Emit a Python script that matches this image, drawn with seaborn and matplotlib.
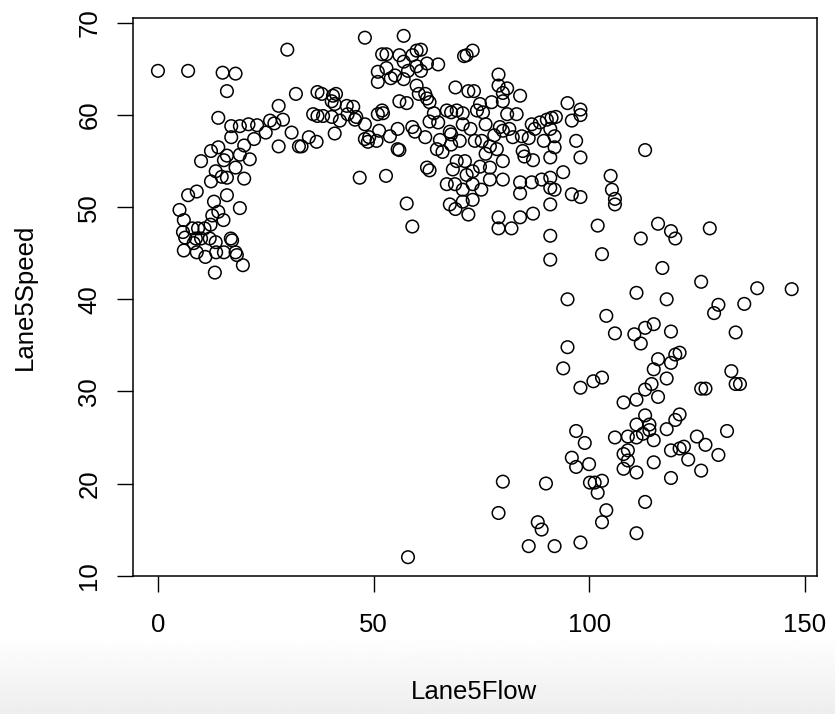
import numpy as np
import pandas as pd
import matplotlib
matplotlib.use("Agg")
import matplotlib.pyplot as plt
import seaborn as sns

# Lane5Flow / Lane5Speed values
left_flow = [0, 7, 15, 18, 16, 30, 32, 28, 14, 17, 19, 21, 23, 26, 27, 29, 31, 25, 22.3, 20, 17, 28, 32.7, 14,
             12.3, 10, 15.3, 16, 19, 21.3, 18, 13.4, 14.8, 16, 20, 12.3, 7, 9, 16, 13, 5, 6, 5.8, 6.3, 6, 8, 9.3,
             10.8, 12.2, 12.6, 14, 15.2, 8.8, 10, 8.3, 9, 11, 12, 13.4, 13.5, 13.2, 15.3, 16.9, 17.2, 18, 18.3, 19.7, 19]
left_speed = [64.8, 64.8, 64.6, 64.5, 62.6, 67.1, 62.3, 61.0, 59.7, 58.8, 58.8, 59.0, 58.9, 59.4, 59.1, 59.5, 58.1,
              58.1, 57.4, 56.7, 57.6, 56.6, 56.6, 56.5, 56.1, 55.0, 55.1, 55.6, 55.7, 55.2, 54.3, 53.9, 53.3, 53.2,
              53.1, 52.8, 51.3, 51.7, 51.3, 50.6, 49.7, 48.6, 47.3, 46.7, 45.3, 47.7, 47.7, 47.7, 48.1, 49.1, 49.5,
              48.6, 46.6, 46.6, 46.1, 45.1, 44.6, 46.6, 46.2, 45.1, 42.9, 45.1, 46.6, 46.4, 45.1, 44.8, 43.7, 49.9]

mid_flow = [48, 57, 52, 53, 56, 59, 60, 61, 71, 71.6, 73, 51, 53, 55, 57, 58, 60, 61, 62.4, 65, 51, 54, 57, 60,
            60.5, 62, 62.4, 63, 69, 72, 56, 57.7, 52, 52.2, 51, 55.6, 51.3, 49, 48, 48.7, 50.7, 53.8, 56, 59, 59.6,
            62, 63, 64, 65, 67, 68, 69.3, 70.7, 65.4, 64.7, 66, 67.7, 68, 68, 70.7, 70, 71.2, 69.3, 68.4, 67, 68.9,
            70.7, 71.6, 62.4, 63, 57.7, 59, 46.8, 52.9, 55.6, 70.7, 67.7, 69, 72,
            37, 38, 40.6, 41.3, 40.3, 41, 43.8, 45.3, 36, 37, 38.3, 40.3, 42.2, 44, 45.7, 48, 41, 35, 36.8, 33.3, 46]
mid_speed = [68.4, 68.6, 66.6, 66.6, 66.5, 66.5, 67.0, 67.1, 66.4, 66.5, 67.0, 64.7, 65.1, 64.3, 65.8, 64.8, 65.3,
             64.8, 65.6, 65.5, 63.6, 64.0, 63.9, 63.2, 62.3, 62.3, 61.8, 61.4, 63.0, 62.6, 61.5, 61.3, 60.5, 60.2,
             60.1, 58.5, 58.3, 57.6, 57.4, 57.1, 57.2, 57.7, 56.2, 58.7, 58.2, 57.6, 59.3, 60.2, 59.2, 60.5, 60.3,
             60.5, 60.2, 57.3, 56.3, 56.0, 58.2, 57.9, 56.8, 59.0, 57.2, 55.0, 55.0, 54.1, 52.5, 52.5, 51.9, 53.5,
             54.3, 54.0, 50.4, 47.9, 53.2, 53.4, 56.3, 50.6, 50.3, 49.8, 49.2,
             62.5, 62.3, 62.1, 62.3, 61.5, 61.2, 61.0, 60.9, 60.1, 59.9, 59.9, 59.8, 59.4, 60.1, 59.5, 59.0, 58.0,
             57.6, 57.1, 56.6, 59.8]

upper_flow = [79, 79, 81, 80, 84, 73.3, 95, 98, 98, 96, 97, 98, 94, 105, 105.3, 106, 106, 98, 96, 91, 89, 92,
              86.7, 84, 80, 77, 75, 84, 91, 86.7, 88.6, 90.2, 91.3, 92.3, 87.4, 91, 92, 89.5, 92, 91, 85, 84.6, 87,
              83.2, 81, 80, 77.4, 74.7, 75.4, 74, 79.3, 80, 82.3, 84.4, 73.5, 75.1, 77, 78.6, 80, 73, 74.7, 77, 73,
              73, 76, 78, 81.5, 76, 72.5, 86, 113,
              91, 91, 102, 103, 95, 104, 106, 95, 94, 103, 101, 98, 111, 79, 79, 82, 84, 87, 91]
upper_speed = [64.4, 63.2, 62.9, 62.4, 62.1, 62.6, 61.3, 60.6, 60.0, 59.4, 57.2, 55.4, 53.8, 53.4, 51.9, 50.9,
               50.3, 51.1, 51.4, 53.2, 53.0, 51.9, 52.7, 52.7, 53.0, 53.0, 51.9, 51.5, 52.1, 59.0, 59.2, 59.5, 59.7,
               59.8, 58.5, 58.5, 57.7, 57.2, 56.5, 55.4, 55.5, 56.1, 55.1, 60.1, 60.1, 61.5, 61.4, 61.2, 60.3, 60.5,
               58.7, 58.3, 57.6, 57.7, 57.2, 57.2, 56.6, 56.3, 55.0, 53.9, 54.4, 54.3, 52.5, 50.8, 55.8, 57.8, 58.5,
               59.0, 58.5, 57.5, 56.2,
               46.9, 44.3, 48.0, 44.9, 40.0, 38.2, 36.3, 34.8, 32.5, 31.5, 31.1, 30.4, 40.7, 48.9, 47.7, 47.7, 48.9,
               49.3, 50.3]

right_flow = [116, 119, 120, 128, 112, 117, 126, 139, 147, 130, 129, 136, 118, 134, 119, 115, 113, 112, 110.5,
              121, 120, 119, 116, 115, 118, 133, 134, 135, 126, 127, 113, 114.5, 116,
              113, 121, 120, 118, 114, 114, 112.5, 115, 132, 125, 127, 130, 119, 121, 122, 123, 126, 119, 115, 113,
              111,
              80, 79, 88.1, 89, 86, 92, 98, 90, 97, 99, 96, 97, 100, 100.2, 101.3, 103, 102, 104, 103, 106, 108,
              108, 109, 109, 108, 111, 109, 111, 111, 111, 58]
right_speed = [48.2, 47.4, 46.6, 47.7, 46.6, 43.4, 41.9, 41.2, 41.1, 39.4, 38.5, 39.5, 40.0, 36.4, 36.5, 37.3,
               36.9, 35.2, 36.2, 34.2, 34.0, 33.1, 33.5, 32.4, 31.4, 32.2, 30.8, 30.8, 30.3, 30.3, 30.2, 30.8, 29.4,
               27.4, 27.5, 26.9, 25.9, 26.4, 25.8, 25.4, 24.7, 25.7, 25.1, 24.2, 23.1, 23.6, 23.8, 24.0, 22.6, 21.4,
               20.6, 22.3, 18.0, 14.6,
               20.2, 16.8, 15.8, 15.0, 13.2, 13.2, 13.6, 20.0, 25.7, 24.4, 22.8, 21.8, 22.1, 20.1, 20.1, 20.3, 19.0,
               17.1, 15.8, 25.0, 28.8, 23.2, 23.6, 22.5, 21.6, 21.2, 25.1, 25.0, 26.4, 29.1, 12.0]

x_ticks = [0, 50, 100, 150]
y_ticks = [10, 20, 30, 40, 50, 60, 70]

df = pd.DataFrame({
    "Lane5Flow": left_flow + mid_flow + upper_flow + right_flow,
    "Lane5Speed": left_speed + mid_speed + upper_speed + right_speed,
})

plt.rcParams["font.family"] = ["Liberation Sans", "DejaVu Sans"]

fig = plt.figure(figsize=(8.35, 7.14), dpi=100)

# light grey band at the bottom of the screenshot
bg = fig.add_axes([0, 0, 1, 0.11], zorder=-5)
grad = np.linspace(0.93, 1.0, 50).reshape(-1, 1)
bg.imshow(grad, cmap="gray", vmin=0, vmax=1, aspect="auto", extent=[0, 1, 0, 1], origin="lower")
bg.axis("off")

ax = fig.add_axes([0.1588, 0.1933, 0.8197, 0.7815])
ax.set_facecolor("white")
sns.scatterplot(data=df, x="Lane5Flow", y="Lane5Speed", ax=ax, marker="o", s=82,
                facecolors="none", edgecolor="black", linewidth=1.1, legend=False)

ax.set_xlim(-5.88, 152.88)
ax.set_ylim(9.96, 70.54)
ax.set_xticks(x_ticks)
ax.set_yticks(y_ticks)
ax.set_xticklabels([str(v) for v in x_ticks], fontsize=18.5)
ax.set_yticklabels([str(v) for v in y_ticks], fontsize=18.5, rotation=90, va="center")
ax.tick_params(axis="both", direction="out", length=11.5, width=1.0, color="black")
ax.tick_params(axis="x", pad=15)
ax.tick_params(axis="y", pad=11)
for sp in ax.spines.values():
    sp.set_color("black")
    sp.set_linewidth(1.1)
ax.set_xlabel("")
ax.set_ylabel("")

fig.text(0.568, 0.031, "Lane5Flow", ha="center", va="center", fontsize=18.5)
fig.text(0.03, 0.584, "Lane5Speed", ha="center", va="center", rotation=90, fontsize=18.5)

fig.savefig("out.png", dpi=100, facecolor="white")
